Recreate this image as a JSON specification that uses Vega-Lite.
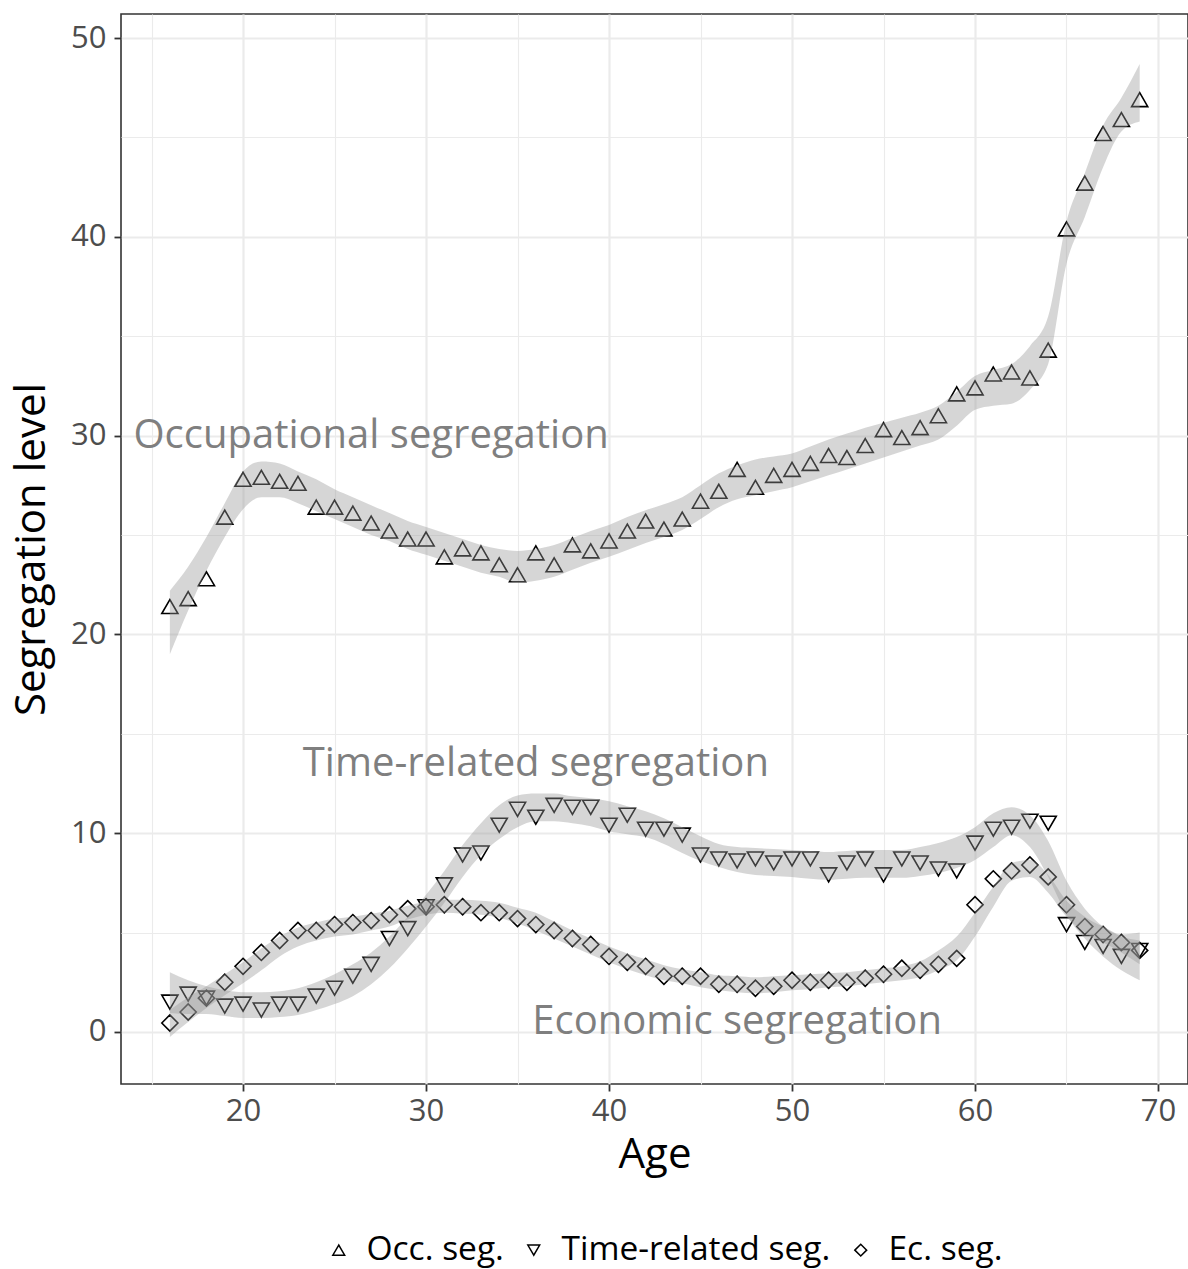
{
  "$schema": "https://vega.github.io/schema/vega-lite/v6.json",
  "autosize": {"type": "none"},
  "width": 1067,
  "height": 1070,
  "padding": {"left": 121, "top": 14, "right": 0, "bottom": 185},
  "background": "white",
  "view": {"stroke": "#333333", "strokeWidth": 1.6},
  "config": {
    "font": "Open Sans",
    "axis": {
      "domain": false,
      "gridColor": "#ebebeb",
      "tickColor": "#333333",
      "tickSize": 7,
      "tickWidth": 1.8,
      "labelColor": "#4d4d4d",
      "labelFontSize": 31,
      "labelFont": "Open Sans",
      "titleFont": "Open Sans",
      "titleFontSize": 42,
      "titleFontWeight": "normal",
      "titleColor": "#000000"
    }
  },
  "datasets": {
    "pts": [
      {"a":16,"s":"Occ. seg.","v":21.4,"lo":19.0,"hi":22.2},
      {"a":17,"s":"Occ. seg.","v":21.8,"lo":21.2,"hi":23.4},
      {"a":18,"s":"Occ. seg.","v":22.8,"lo":23.2,"hi":24.9},
      {"a":19,"s":"Occ. seg.","v":25.9,"lo":24.9,"hi":26.6},
      {"a":20,"s":"Occ. seg.","v":27.8,"lo":26.3,"hi":28.2},
      {"a":21,"s":"Occ. seg.","v":27.9,"lo":26.9,"hi":28.7},
      {"a":22,"s":"Occ. seg.","v":27.7,"lo":26.9,"hi":28.6},
      {"a":23,"s":"Occ. seg.","v":27.6,"lo":26.6,"hi":28.2},
      {"a":24,"s":"Occ. seg.","v":26.4,"lo":26.2,"hi":27.8},
      {"a":25,"s":"Occ. seg.","v":26.4,"lo":25.8,"hi":27.3},
      {"a":26,"s":"Occ. seg.","v":26.1,"lo":25.4,"hi":26.9},
      {"a":27,"s":"Occ. seg.","v":25.6,"lo":25.0,"hi":26.5},
      {"a":28,"s":"Occ. seg.","v":25.2,"lo":24.7,"hi":26.1},
      {"a":29,"s":"Occ. seg.","v":24.8,"lo":24.3,"hi":25.7},
      {"a":30,"s":"Occ. seg.","v":24.8,"lo":24.0,"hi":25.4},
      {"a":31,"s":"Occ. seg.","v":23.9,"lo":23.7,"hi":25.1},
      {"a":32,"s":"Occ. seg.","v":24.3,"lo":23.4,"hi":24.8},
      {"a":33,"s":"Occ. seg.","v":24.1,"lo":23.1,"hi":24.5},
      {"a":34,"s":"Occ. seg.","v":23.5,"lo":22.9,"hi":24.3},
      {"a":35,"s":"Occ. seg.","v":23.0,"lo":22.6,"hi":24.2},
      {"a":36,"s":"Occ. seg.","v":24.1,"lo":22.7,"hi":24.3},
      {"a":37,"s":"Occ. seg.","v":23.5,"lo":22.9,"hi":24.5},
      {"a":38,"s":"Occ. seg.","v":24.5,"lo":23.25,"hi":24.85},
      {"a":39,"s":"Occ. seg.","v":24.2,"lo":23.6,"hi":25.2},
      {"a":40,"s":"Occ. seg.","v":24.7,"lo":23.9,"hi":25.5},
      {"a":41,"s":"Occ. seg.","v":25.2,"lo":24.25,"hi":25.9},
      {"a":42,"s":"Occ. seg.","v":25.7,"lo":24.6,"hi":26.25},
      {"a":43,"s":"Occ. seg.","v":25.3,"lo":24.9,"hi":26.55},
      {"a":44,"s":"Occ. seg.","v":25.8,"lo":25.25,"hi":26.9},
      {"a":45,"s":"Occ. seg.","v":26.7,"lo":25.8,"hi":27.5},
      {"a":46,"s":"Occ. seg.","v":27.2,"lo":26.4,"hi":28.1},
      {"a":47,"s":"Occ. seg.","v":28.3,"lo":26.8,"hi":28.5},
      {"a":48,"s":"Occ. seg.","v":27.4,"lo":27.0,"hi":28.8},
      {"a":49,"s":"Occ. seg.","v":28.0,"lo":27.2,"hi":28.95},
      {"a":50,"s":"Occ. seg.","v":28.3,"lo":27.4,"hi":29.1},
      {"a":51,"s":"Occ. seg.","v":28.6,"lo":27.7,"hi":29.45},
      {"a":52,"s":"Occ. seg.","v":29.0,"lo":28.0,"hi":29.8},
      {"a":53,"s":"Occ. seg.","v":28.9,"lo":28.3,"hi":30.1},
      {"a":54,"s":"Occ. seg.","v":29.5,"lo":28.6,"hi":30.4},
      {"a":55,"s":"Occ. seg.","v":30.3,"lo":28.9,"hi":30.65},
      {"a":56,"s":"Occ. seg.","v":29.9,"lo":29.2,"hi":30.9},
      {"a":57,"s":"Occ. seg.","v":30.4,"lo":29.5,"hi":31.15},
      {"a":58,"s":"Occ. seg.","v":31.0,"lo":29.8,"hi":31.5},
      {"a":59,"s":"Occ. seg.","v":32.1,"lo":30.5,"hi":32.2},
      {"a":60,"s":"Occ. seg.","v":32.4,"lo":31.3,"hi":33.0},
      {"a":61,"s":"Occ. seg.","v":33.1,"lo":31.5,"hi":33.3},
      {"a":62,"s":"Occ. seg.","v":33.2,"lo":31.6,"hi":33.6},
      {"a":63,"s":"Occ. seg.","v":32.9,"lo":32.3,"hi":34.5},
      {"a":64,"s":"Occ. seg.","v":34.3,"lo":33.6,"hi":36.0},
      {"a":65,"s":"Occ. seg.","v":40.4,"lo":38.65,"hi":40.75},
      {"a":66,"s":"Occ. seg.","v":42.7,"lo":41.0,"hi":43.2},
      {"a":67,"s":"Occ. seg.","v":45.2,"lo":43.5,"hi":45.6},
      {"a":68,"s":"Occ. seg.","v":45.9,"lo":45.3,"hi":47.0},
      {"a":69,"s":"Occ. seg.","v":46.9,"lo":45.8,"hi":48.7},

      {"a":16,"s":"Time-related seg.","v":1.5,"lo":0.95,"hi":3.0},
      {"a":17,"s":"Time-related seg.","v":1.9,"lo":0.9,"hi":2.6},
      {"a":18,"s":"Time-related seg.","v":1.7,"lo":0.9,"hi":2.3},
      {"a":19,"s":"Time-related seg.","v":1.3,"lo":0.8,"hi":2.1},
      {"a":20,"s":"Time-related seg.","v":1.4,"lo":0.7,"hi":2.0},
      {"a":21,"s":"Time-related seg.","v":1.1,"lo":0.7,"hi":2.0},
      {"a":22,"s":"Time-related seg.","v":1.4,"lo":0.75,"hi":2.05},
      {"a":23,"s":"Time-related seg.","v":1.4,"lo":0.85,"hi":2.2},
      {"a":24,"s":"Time-related seg.","v":1.8,"lo":1.1,"hi":2.5},
      {"a":25,"s":"Time-related seg.","v":2.2,"lo":1.4,"hi":2.9},
      {"a":26,"s":"Time-related seg.","v":2.8,"lo":1.8,"hi":3.4},
      {"a":27,"s":"Time-related seg.","v":3.4,"lo":2.4,"hi":4.0},
      {"a":28,"s":"Time-related seg.","v":4.7,"lo":3.2,"hi":4.8},
      {"a":29,"s":"Time-related seg.","v":5.2,"lo":4.2,"hi":5.8},
      {"a":30,"s":"Time-related seg.","v":6.3,"lo":5.3,"hi":6.9},
      {"a":31,"s":"Time-related seg.","v":7.4,"lo":6.5,"hi":8.1},
      {"a":32,"s":"Time-related seg.","v":8.9,"lo":7.8,"hi":9.4},
      {"a":33,"s":"Time-related seg.","v":9.0,"lo":8.9,"hi":10.5},
      {"a":34,"s":"Time-related seg.","v":10.4,"lo":9.7,"hi":11.4},
      {"a":35,"s":"Time-related seg.","v":11.2,"lo":10.3,"hi":11.9},
      {"a":36,"s":"Time-related seg.","v":10.8,"lo":10.6,"hi":12.0},
      {"a":37,"s":"Time-related seg.","v":11.4,"lo":10.6,"hi":12.0},
      {"a":38,"s":"Time-related seg.","v":11.3,"lo":10.5,"hi":11.85},
      {"a":39,"s":"Time-related seg.","v":11.3,"lo":10.35,"hi":11.75},
      {"a":40,"s":"Time-related seg.","v":10.4,"lo":10.1,"hi":11.6},
      {"a":41,"s":"Time-related seg.","v":10.9,"lo":9.95,"hi":11.35},
      {"a":42,"s":"Time-related seg.","v":10.2,"lo":9.8,"hi":11.1},
      {"a":43,"s":"Time-related seg.","v":10.2,"lo":9.45,"hi":10.75},
      {"a":44,"s":"Time-related seg.","v":9.9,"lo":9.0,"hi":10.3},
      {"a":45,"s":"Time-related seg.","v":8.9,"lo":8.6,"hi":9.85},
      {"a":46,"s":"Time-related seg.","v":8.7,"lo":8.3,"hi":9.45},
      {"a":47,"s":"Time-related seg.","v":8.6,"lo":8.05,"hi":9.3},
      {"a":48,"s":"Time-related seg.","v":8.7,"lo":7.9,"hi":9.25},
      {"a":49,"s":"Time-related seg.","v":8.5,"lo":7.85,"hi":9.2},
      {"a":50,"s":"Time-related seg.","v":8.7,"lo":7.8,"hi":9.15},
      {"a":51,"s":"Time-related seg.","v":8.7,"lo":7.7,"hi":9.1},
      {"a":52,"s":"Time-related seg.","v":7.9,"lo":7.65,"hi":9.05},
      {"a":53,"s":"Time-related seg.","v":8.5,"lo":7.7,"hi":9.1},
      {"a":54,"s":"Time-related seg.","v":8.7,"lo":7.75,"hi":9.15},
      {"a":55,"s":"Time-related seg.","v":7.9,"lo":7.75,"hi":9.15},
      {"a":56,"s":"Time-related seg.","v":8.7,"lo":7.75,"hi":9.15},
      {"a":57,"s":"Time-related seg.","v":8.5,"lo":7.85,"hi":9.3},
      {"a":58,"s":"Time-related seg.","v":8.2,"lo":8.0,"hi":9.5},
      {"a":59,"s":"Time-related seg.","v":8.1,"lo":8.25,"hi":9.8},
      {"a":60,"s":"Time-related seg.","v":9.5,"lo":8.65,"hi":10.3},
      {"a":61,"s":"Time-related seg.","v":10.2,"lo":9.3,"hi":11.0},
      {"a":62,"s":"Time-related seg.","v":10.3,"lo":9.9,"hi":11.3},
      {"a":63,"s":"Time-related seg.","v":10.6,"lo":9.3,"hi":10.9},
      {"a":64,"s":"Time-related seg.","v":10.5,"lo":7.8,"hi":9.6},
      {"a":65,"s":"Time-related seg.","v":5.4,"lo":5.9,"hi":7.6},
      {"a":66,"s":"Time-related seg.","v":4.5,"lo":4.7,"hi":6.2},
      {"a":67,"s":"Time-related seg.","v":4.3,"lo":3.8,"hi":5.3},
      {"a":68,"s":"Time-related seg.","v":3.8,"lo":3.1,"hi":4.8},
      {"a":69,"s":"Time-related seg.","v":4.1,"lo":2.6,"hi":4.6},

      {"a":16,"s":"Ec. seg.","v":0.45,"lo":-0.25,"hi":1.1},
      {"a":17,"s":"Ec. seg.","v":1.0,"lo":0.5,"hi":1.75},
      {"a":18,"s":"Ec. seg.","v":1.7,"lo":1.2,"hi":2.3},
      {"a":19,"s":"Ec. seg.","v":2.5,"lo":1.85,"hi":2.9},
      {"a":20,"s":"Ec. seg.","v":3.3,"lo":2.45,"hi":3.5},
      {"a":21,"s":"Ec. seg.","v":4.0,"lo":3.1,"hi":4.2},
      {"a":22,"s":"Ec. seg.","v":4.6,"lo":3.8,"hi":4.8},
      {"a":23,"s":"Ec. seg.","v":5.1,"lo":4.3,"hi":5.25},
      {"a":24,"s":"Ec. seg.","v":5.1,"lo":4.6,"hi":5.5},
      {"a":25,"s":"Ec. seg.","v":5.4,"lo":4.8,"hi":5.7},
      {"a":26,"s":"Ec. seg.","v":5.5,"lo":4.9,"hi":5.8},
      {"a":27,"s":"Ec. seg.","v":5.6,"lo":5.1,"hi":5.95},
      {"a":28,"s":"Ec. seg.","v":5.9,"lo":5.3,"hi":6.1},
      {"a":29,"s":"Ec. seg.","v":6.2,"lo":5.65,"hi":6.35},
      {"a":30,"s":"Ec. seg.","v":6.3,"lo":5.9,"hi":6.55},
      {"a":31,"s":"Ec. seg.","v":6.4,"lo":6.0,"hi":6.65},
      {"a":32,"s":"Ec. seg.","v":6.3,"lo":5.95,"hi":6.65},
      {"a":33,"s":"Ec. seg.","v":6.0,"lo":5.9,"hi":6.6},
      {"a":34,"s":"Ec. seg.","v":6.0,"lo":5.75,"hi":6.5},
      {"a":35,"s":"Ec. seg.","v":5.7,"lo":5.45,"hi":6.25},
      {"a":36,"s":"Ec. seg.","v":5.4,"lo":5.1,"hi":6.0},
      {"a":37,"s":"Ec. seg.","v":5.1,"lo":4.7,"hi":5.55},
      {"a":38,"s":"Ec. seg.","v":4.7,"lo":4.3,"hi":5.1},
      {"a":39,"s":"Ec. seg.","v":4.4,"lo":3.9,"hi":4.7},
      {"a":40,"s":"Ec. seg.","v":3.8,"lo":3.5,"hi":4.3},
      {"a":41,"s":"Ec. seg.","v":3.5,"lo":3.15,"hi":3.95},
      {"a":42,"s":"Ec. seg.","v":3.3,"lo":2.85,"hi":3.65},
      {"a":43,"s":"Ec. seg.","v":2.8,"lo":2.6,"hi":3.35},
      {"a":44,"s":"Ec. seg.","v":2.8,"lo":2.45,"hi":3.15},
      {"a":45,"s":"Ec. seg.","v":2.8,"lo":2.25,"hi":3.0},
      {"a":46,"s":"Ec. seg.","v":2.4,"lo":2.1,"hi":2.85},
      {"a":47,"s":"Ec. seg.","v":2.4,"lo":2.0,"hi":2.8},
      {"a":48,"s":"Ec. seg.","v":2.2,"lo":1.95,"hi":2.75},
      {"a":49,"s":"Ec. seg.","v":2.3,"lo":2.0,"hi":2.8},
      {"a":50,"s":"Ec. seg.","v":2.6,"lo":2.1,"hi":2.85},
      {"a":51,"s":"Ec. seg.","v":2.5,"lo":2.15,"hi":2.9},
      {"a":52,"s":"Ec. seg.","v":2.6,"lo":2.25,"hi":2.95},
      {"a":53,"s":"Ec. seg.","v":2.5,"lo":2.3,"hi":3.0},
      {"a":54,"s":"Ec. seg.","v":2.7,"lo":2.4,"hi":3.1},
      {"a":55,"s":"Ec. seg.","v":2.9,"lo":2.5,"hi":3.2},
      {"a":56,"s":"Ec. seg.","v":3.2,"lo":2.6,"hi":3.3},
      {"a":57,"s":"Ec. seg.","v":3.1,"lo":2.75,"hi":3.55},
      {"a":58,"s":"Ec. seg.","v":3.4,"lo":3.1,"hi":4.1},
      {"a":59,"s":"Ec. seg.","v":3.7,"lo":3.6,"hi":4.8},
      {"a":60,"s":"Ec. seg.","v":6.4,"lo":4.8,"hi":6.0},
      {"a":61,"s":"Ec. seg.","v":7.7,"lo":6.3,"hi":7.3},
      {"a":62,"s":"Ec. seg.","v":8.1,"lo":7.6,"hi":8.5},
      {"a":63,"s":"Ec. seg.","v":8.4,"lo":7.8,"hi":8.65},
      {"a":64,"s":"Ec. seg.","v":7.8,"lo":7.0,"hi":7.9},
      {"a":65,"s":"Ec. seg.","v":6.4,"lo":5.8,"hi":6.6},
      {"a":66,"s":"Ec. seg.","v":5.3,"lo":5.0,"hi":5.8},
      {"a":67,"s":"Ec. seg.","v":4.9,"lo":4.5,"hi":5.3},
      {"a":68,"s":"Ec. seg.","v":4.5,"lo":4.0,"hi":4.9},
      {"a":69,"s":"Ec. seg.","v":4.1,"lo":3.4,"hi":5.0}
    ],
    "labels": [
      {"a":27,"v":30,"t":"Occupational segregation"},
      {"a":36,"v":13.5,"t":"Time-related segregation"},
      {"a":47,"v":0.5,"t":"Economic segregation"}
    ]
  },
  "encoding": {
    "x": {
      "field": "a", "type": "quantitative",
      "scale": {"domain": [13.33, 71.64], "nice": false, "zero": false},
      "axis": {
        "title": "Age",
        "values": [15,20,25,30,35,40,45,50,55,60,65,70],
        "labelExpr": "datum.value % 10 === 0 ? datum.label : ''",
        "tickOpacity": {"condition": {"test": "datum.value % 10 === 0", "value": 1}, "value": 0},
        "gridWidth": {"condition": {"test": "datum.value % 10 === 0", "value": 2.2}, "value": 1.1},
        "labelPadding": 5,
        "titlePadding": 8
      }
    },
    "y": {
      "type": "quantitative",
      "scale": {"domain": [-2.62, 51.21], "nice": false, "zero": false},
      "axis": {
        "title": "Segregation level",
        "values": [0,5,10,15,20,25,30,35,40,45,50],
        "labelExpr": "datum.value % 10 === 0 ? datum.label : ''",
        "tickOpacity": {"condition": {"test": "datum.value % 10 === 0", "value": 1}, "value": 0},
        "gridWidth": {"condition": {"test": "datum.value % 10 === 0", "value": 2.2}, "value": 1.1},
        "labelPadding": 8,
        "titlePadding": 17
      }
    }
  },
  "layer": [
    {
      "data": {"name": "pts"},
      "mark": {"type": "point", "filled": false, "size": 260, "strokeWidth": 1.6, "color": "#000000", "opacity": 1},
      "encoding": {
        "y": {"field": "v", "type": "quantitative"},
        "shape": {
          "field": "s", "type": "nominal",
          "scale": {"domain": ["Occ. seg.", "Time-related seg.", "Ec. seg."], "range": ["triangle-up", "triangle-down", "diamond"]},
          "legend": {
            "title": null,
            "orient": "none",
            "legendX": 201,
            "legendY": 1219,
            "padding": 0,
            "direction": "horizontal",
            "labelFontSize": 33.5,
            "labelColor": "#000000",
            "labelFont": "Open Sans",
            "labelLimit": 0,
            "symbolSize": 140,
            "symbolStrokeWidth": 1.5,
            "symbolStrokeColor": "#000000",
            "symbolFillColor": "transparent",
            "labelOffset": 11,
            "columnPadding": 13
          }
        }
      }
    },
    {
      "data": {"name": "pts"},
      "mark": {"type": "area", "color": "#999999", "opacity": 0.4, "interpolate": "monotone"},
      "encoding": {
        "y": {"field": "lo", "type": "quantitative"},
        "y2": {"field": "hi"},
        "detail": {"field": "s", "type": "nominal"}
      }
    },
    {
      "data": {"name": "labels"},
      "mark": {"type": "text", "fontSize": 40, "color": "#7f7f7f", "align": "center", "baseline": "middle", "font": "Open Sans"},
      "encoding": {
        "y": {"field": "v", "type": "quantitative"},
        "text": {"field": "t"}
      }
    }
  ]
}
